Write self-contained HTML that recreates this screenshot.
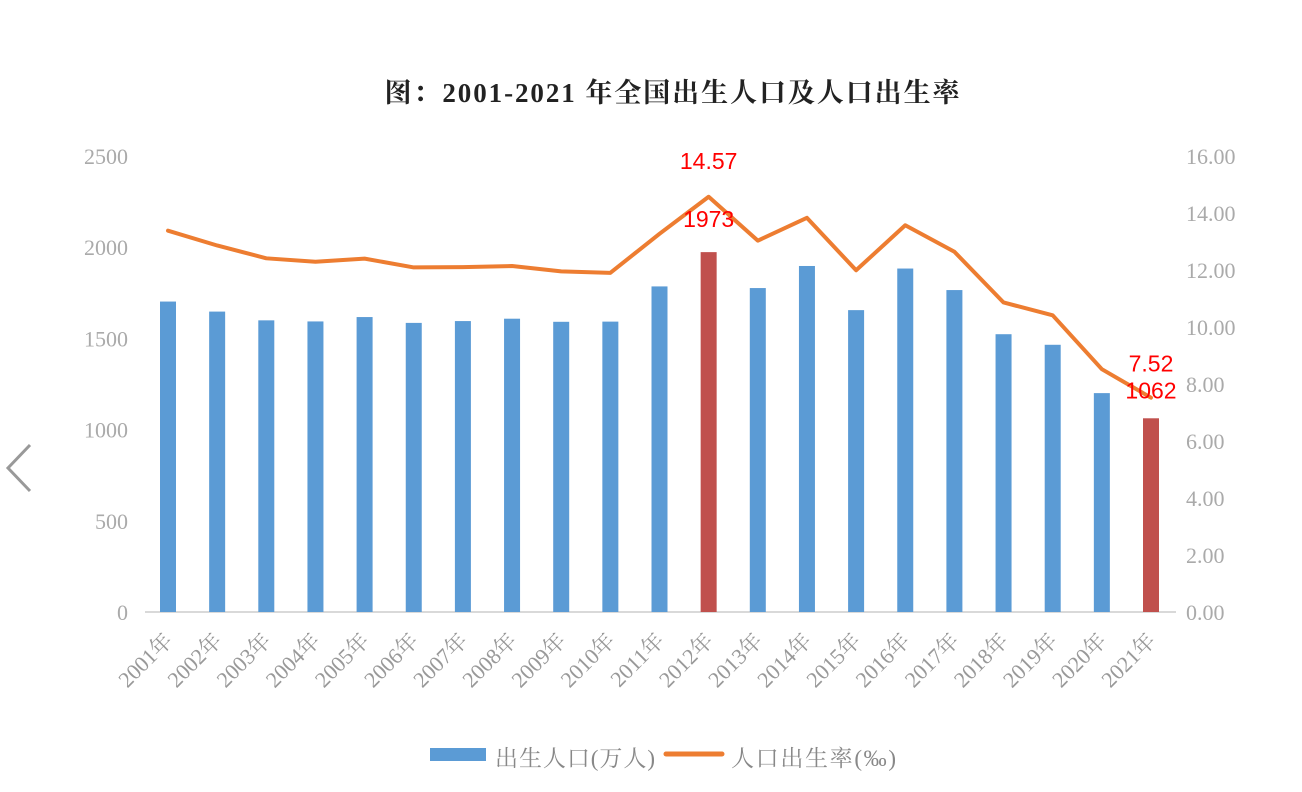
<!DOCTYPE html>
<html><head><meta charset="utf-8"><style>
body{margin:0;background:#fff;width:1302px;height:792px;overflow:hidden}
svg{display:block}
</style></head><body>
<svg width="1302" height="792" id="chart">
<text x="672" y="102" text-anchor="middle" textLength="575" font-family="'Liberation Serif','Noto Serif CJK SC',serif" font-weight="bold" font-size="27" fill="#222">图：2001-2021 年全国出生人口及人口出生率</text>
<path d="M30 445 L8 468 L30 491" fill="none" stroke="#999" stroke-width="3"/>
<g id="axes"></g><g id="bars"></g><g id="line"></g><g id="labels"></g>
<g>
<rect x="430" y="748" width="56" height="13" fill="#5b9bd5"/>
<text x="495" y="766" textLength="160" font-family="'Liberation Serif','Noto Serif CJK SC',serif" font-size="23" fill="#888">出生人口(万人)</text>
<line x1="666" y1="754" x2="722" y2="754" stroke="#ed7d31" stroke-width="5" stroke-linecap="round"/>
<text x="731" y="766" textLength="165" font-family="'Liberation Serif','Noto Serif CJK SC',serif" font-size="23" fill="#888">人口出生率(‰)</text>
</g>
</svg>
<script>
const years=["2001年","2002年","2003年","2004年","2005年","2006年","2007年","2008年","2009年","2010年","2011年","2012年","2013年","2014年","2015年","2016年","2017年","2018年","2019年","2020年","2021年"];
const births=[1702,1647,1599,1593,1617,1585,1595,1608,1591,1592,1785,1973,1776,1897,1655,1883,1765,1523,1465,1200,1062];
const rates=[13.38,12.86,12.41,12.29,12.40,12.09,12.10,12.14,11.95,11.90,13.27,14.57,13.03,13.83,11.99,13.57,12.64,10.86,10.41,8.52,7.52];
const leftTicks=[0,500,1000,1500,2000,2500];
const rightTicks=["0.00","2.00","4.00","6.00","8.00","10.00","12.00","14.00","16.00"];
const highlight=[11,20];
const NS="http://www.w3.org/2000/svg";
const y0=612,y1=156;
const yL=v=>y0-(v/2500)*(y0-y1);
const yR=v=>y0-(v/16)*(y0-y1);
const xC=i=>168+i*49.15;
function mk(tag,attrs,parent,txt){const e=document.createElementNS(NS,tag);for(const k in attrs)e.setAttribute(k,attrs[k]);if(txt!==undefined)e.textContent=txt;document.getElementById(parent).appendChild(e);return e;}
const serif="'Liberation Serif','Noto Serif CJK SC',serif";
let ax=mk('line',{x1:145,y1:y0,x2:1176,y2:y0,stroke:'#d9d9d9','stroke-width':2},'axes');


leftTicks.forEach(v=>{const t=mk('text',{x:128,y:yL(v)+8,'text-anchor':'end','font-family':serif,'font-size':22,fill:'#aaa'},'axes',String(v));

});
rightTicks.forEach(v=>{const t=mk('text',{x:1186,y:yR(parseFloat(v))+8,'font-family':serif,'font-size':22,fill:'#aaa'},'axes',v);

});
years.forEach((y,i)=>{const x=xC(i)+6,yy=642;const t=mk('text',{x:x,y:yy,'text-anchor':'end','font-family':serif,'font-size':22,fill:'#999',transform:`rotate(-45 ${x} ${yy})`},'axes',y);

});
births.forEach((b,i)=>{const r=mk('rect',{x:xC(i)-8,y:yL(b),width:16,height:y0-yL(b),fill:highlight.includes(i)?'#c0504d':'#5b9bd5'},'bars');

});
const pts=rates.map((r,i)=>xC(i)+','+yR(r)).join(' ');
const pl=mk('polyline',{points:pts,fill:'none',stroke:'#ed7d31','stroke-width':4,'stroke-linejoin':'round','stroke-linecap':'round'},'line');


const lf="'Liberation Sans',sans-serif";
let a=mk('text',{x:xC(11),y:yR(rates[11])-28,'text-anchor':'middle','font-family':lf,'font-size':23,fill:'#f00'},'labels',rates[11].toFixed(2));


let b=mk('text',{x:xC(11),y:yL(births[11])-25,'text-anchor':'middle','font-family':lf,'font-size':23,fill:'#f00'},'labels',String(births[11]));


let c=mk('text',{x:xC(20),y:yR(rates[20])-26,'text-anchor':'middle','font-family':lf,'font-size':23,fill:'#f00'},'labels',rates[20].toFixed(2));


let d=mk('text',{x:xC(20),y:yL(births[20])-20,'text-anchor':'middle','font-family':lf,'font-size':23,fill:'#f00'},'labels',String(births[20]));


</script>
</body></html>
